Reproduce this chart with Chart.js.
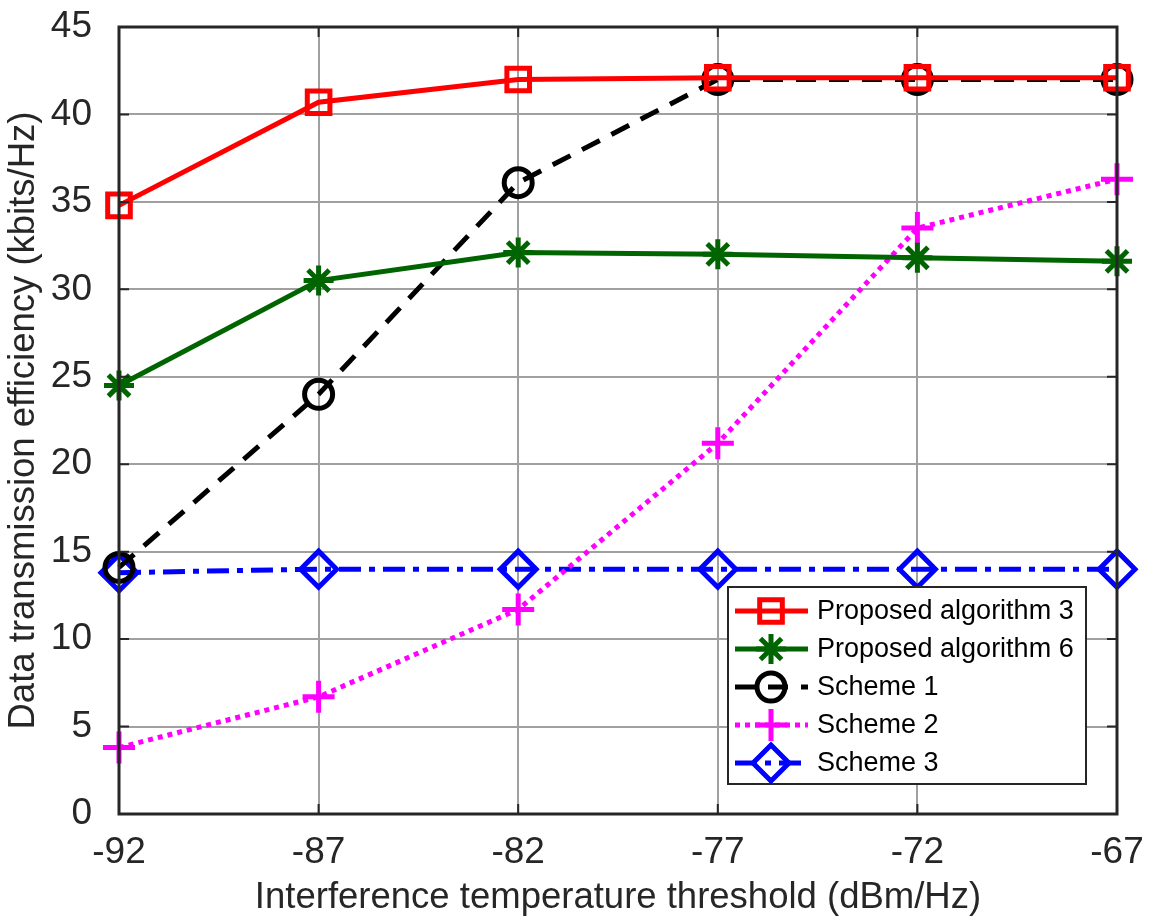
<!DOCTYPE html>
<html>
<head>
<meta charset="utf-8">
<script src="https://cdn.jsdelivr.net/npm/chart.js@4/dist/chart.umd.min.js"></script>
<style>
  html, body { margin: 0; padding: 0; background: #fff; }
  #wrap { width: 1160px; height: 922px; }
</style>
</head>
<body>
<div id="wrap"><canvas id="effChart" width="1160" height="922"></canvas></div>
<script>
// x values (dBm/Hz)
const thresholds = [-92, -87, -82, -77, -72, -67];
// series (kbits/Hz)
const proposed3 = [34.8, 40.7, 42.0, 42.1, 42.1, 42.1];
const proposed6 = [24.5, 30.5, 32.1, 32.0, 31.8, 31.6];
const scheme1 = [14.1, 24.0, 36.1, 42.0, 42.0, 42.0];
const scheme2 = [3.8, 6.7, 11.7, 21.2, 33.5, 36.3];
const scheme3 = [13.8, 14.0, 14.0, 14.0, 14.0, 14.0];
const yTicks = [0, 5, 10, 15, 20, 25, 30, 35, 40, 45];

const FONT = 'Liberation Sans, Arial, Helvetica, sans-serif';

function toPts(vals) {
    return thresholds.map((x, i) => ({x: x, y: vals[i]}));
}

//datasets
const dataEff = {
    datasets: [
        {
            label: 'Proposed algorithm 3',
            data: toPts(proposed3),
            borderColor: '#ff0000',
            pointStyle: 'rect',
            pointRadius: 16,
        },
        {
            label: 'Proposed algorithm 6',
            data: toPts(proposed6),
            borderColor: '#006400',
            pointStyle: 'star',
            pointRadius: 15,
        },
        {
            label: 'Scheme 1',
            data: toPts(scheme1),
            borderColor: '#000000',
            borderDash: [20, 13],
            pointStyle: 'circle',
            pointRadius: 14,
        },
        {
            label: 'Scheme 2',
            data: toPts(scheme2),
            borderColor: '#ff00ff',
            borderDash: [5, 5],
            pointStyle: 'cross',
            pointRadius: 16,
        },
        {
            label: 'Scheme 3',
            data: toPts(scheme3),
            borderColor: '#0000ff',
            borderDash: [22, 8, 6, 8],
            pointStyle: 'rectRot',
            pointRadius: 18,
        }
    ].map(ds => Object.assign({
        backgroundColor: 'rgba(0,0,0,0)',
        pointBorderColor: ds.borderColor,
        borderWidth: 5,
        pointBorderWidth: 5,
        pointHoverRadius: ds.pointRadius,
        tension: 0,
        clip: false,
    }, ds))
};

// frame + inward ticks, MATLAB style
const framePlugin = {
    id: 'frame',
    afterDraw(chart) {
        const {ctx, chartArea: a, scales} = chart;
        ctx.save();
        ctx.strokeStyle = '#262626';
        ctx.lineWidth = 3;
        ctx.setLineDash([]);
        ctx.strokeRect(a.left, a.top, a.right - a.left, a.bottom - a.top);
        ctx.lineWidth = 2;
        ctx.beginPath();
        thresholds.forEach(v => {
            const x = scales.x.getPixelForValue(v);
            ctx.moveTo(x, a.bottom); ctx.lineTo(x, a.bottom - 10);
            ctx.moveTo(x, a.top); ctx.lineTo(x, a.top + 10);
        });
        yTicks.forEach(v => {
            const y = scales.y.getPixelForValue(v);
            ctx.moveTo(a.left, y); ctx.lineTo(a.left + 10, y);
            ctx.moveTo(a.right, y); ctx.lineTo(a.right - 10, y);
        });
        ctx.stroke();
        ctx.restore();
    }
};

// boxed legend inside the plot, lower right
const boxLegend = {
    id: 'boxLegend',
    afterDraw(chart) {
        const ctx = chart.ctx;
        const left = 728, top = 587, w = 358, h = 197;
        ctx.save();
        ctx.fillStyle = '#ffffff';
        ctx.fillRect(left, top, w, h);
        ctx.strokeStyle = '#262626';
        ctx.lineWidth = 2;
        ctx.strokeRect(left, top, w, h);
        ctx.font = '27px ' + FONT;
        ctx.textBaseline = 'middle';
        chart.data.datasets.forEach((ds, i) => {
            const y = top + 24 + i * 38;
            ctx.strokeStyle = ds.borderColor;
            ctx.lineWidth = 5;
            ctx.setLineDash(ds.borderDash || []);
            ctx.beginPath();
            ctx.moveTo(735, y);
            ctx.lineTo(808, y);
            ctx.stroke();
            ctx.setLineDash([]);
            ctx.fillStyle = 'rgba(0,0,0,0)';
            ctx.lineWidth = 5;
            Chart.helpers.drawPoint(ctx, {
                pointStyle: ds.pointStyle,
                radius: ds.pointRadius,
                borderWidth: 5,
                rotation: 0
            }, 771, y);
            ctx.fillStyle = '#000000';
            ctx.fillText(ds.label, 817, y + 1);
        });
        ctx.restore();
    }
};

//options
const optionsEff = {
    responsive: false,
    animation: false,
    layout: { padding: { top: 27, right: 43, left: 0, bottom: 0 } },
    plugins: {
        legend: { display: false },
        tooltip: { enabled: false },
        title: { display: false }
    },
    scales: {
        x: {
            type: 'linear',
            min: -92,
            max: -67,
            afterBuildTicks(scale) {
                scale.ticks = thresholds.map(v => ({value: v}));
            },
            afterFit(scale) {
                scale.height = 108;
                scale.paddingLeft = 0;
                scale.paddingRight = 0;
            },
            grid: { color: '#a0a0a0', lineWidth: 2, drawTicks: false },
            border: { display: false },
            ticks: {
                padding: 17,
                color: '#262626',
                font: { family: FONT, size: 37 }
            },
            title: {
                display: true,
                text: 'Interference temperature threshold (dBm/Hz)',
                color: '#262626',
                font: { family: FONT, size: 36.5 },
                padding: { top: 0, bottom: 2 }
            }
        },
        y: {
            type: 'linear',
            min: 0,
            max: 45,
            afterBuildTicks(scale) {
                scale.ticks = yTicks.map(v => ({value: v}));
            },
            afterFit(scale) {
                scale.width = 119;
                scale.paddingTop = 0;
                scale.paddingBottom = 0;
            },
            grid: { color: '#a0a0a0', lineWidth: 2, drawTicks: false },
            border: { display: false },
            ticks: {
                padding: 27,
                color: '#262626',
                font: { family: FONT, size: 37 }
            },
            title: {
                display: true,
                text: 'Data transmission efficiency (kbits/Hz)',
                color: '#262626',
                font: { family: FONT, size: 36.5 },
                padding: { top: 2, bottom: 0 }
            }
        }
    }
};

//config
const configEff = {
    type: 'line',
    data: dataEff,
    options: optionsEff,
    plugins: [framePlugin, boxLegend]
};

//render
const effChart = new Chart(
    document.getElementById('effChart').getContext('2d'),
    configEff
);
</script>
</body>
</html>
